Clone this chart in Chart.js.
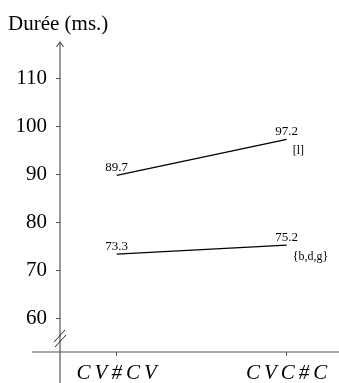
<!DOCTYPE html>
<html>
<head>
<meta charset="utf-8">
<script src="https://cdn.jsdelivr.net/npm/chart.js@4"></script>
<style>
  body { margin: 0; background: #fff; }
  #chart { display: block; }
</style>
</head>
<body>
<canvas id="chart" width="339" height="383"></canvas>
<script>
// data
const categories = ['CV#CV', 'CVC#C'];
const seriesL = [89.7, 97.2];
const seriesBDG = [73.3, 75.2];
const seriesNames = ['[l]', '{b,d,g}'];
const yTicks = [60, 70, 80, 90, 100, 110];
const yTitle = 'Durée (ms.)';

const axisColor = '#555';
const serif = "'Liberation Serif', 'Times New Roman', serif";

function toPoints(arr) {
  return arr.map((v, i) => ({ x: i, y: v }));
}

// axis lines, arrow, axis break, title, x labels, value labels
const drawExtras = {
  id: 'drawExtras',
  afterDraw(chart) {
    const ctx = chart.ctx;
    const area = chart.chartArea;
    const xs = chart.scales.x;
    ctx.save();
    ctx.strokeStyle = axisColor;
    ctx.lineWidth = 1.2;
    // y axis
    ctx.beginPath();
    ctx.moveTo(area.left, chart.height);
    ctx.lineTo(area.left, area.top);
    ctx.stroke();
    // arrow head
    ctx.beginPath();
    ctx.moveTo(area.left - 3.5, area.top + 5);
    ctx.lineTo(area.left, area.top);
    ctx.lineTo(area.left + 3.5, area.top + 5);
    ctx.stroke();
    // x axis
    ctx.beginPath();
    ctx.moveTo(32, area.bottom);
    ctx.lineTo(area.right, area.bottom);
    ctx.stroke();
    // axis break
    ctx.strokeStyle = '#222';
    ctx.lineWidth = 1;
    ctx.beginPath();
    ctx.moveTo(area.left - 6, area.bottom - 10);
    ctx.lineTo(area.left + 5, area.bottom - 22);
    ctx.moveTo(area.left - 5, area.bottom - 5);
    ctx.lineTo(area.left + 6, area.bottom - 17);
    ctx.stroke();

    // title
    ctx.fillStyle = '#000';
    ctx.font = '21px ' + serif;
    ctx.textAlign = 'left';
    ctx.textBaseline = 'alphabetic';
    ctx.fillText(yTitle, 8, 30);

    // x category labels (math italic look)
    ctx.font = 'italic 21px ' + serif;
    ctx.letterSpacing = '4px';
    categories.forEach((c, i) => {
      const w = ctx.measureText(c).width - 4;
      ctx.fillText(c, xs.getPixelForValue(i) - w / 2, 379);
    });
    ctx.letterSpacing = '0px';

    // value labels and series names
    chart.data.datasets.forEach((ds, di) => {
      const meta = chart.getDatasetMeta(di);
      ctx.font = '13px ' + serif;
      ctx.textAlign = 'center';
      ctx.textBaseline = 'alphabetic';
      meta.data.forEach((pt, i) => {
        ctx.fillText(ds.data[i].y.toFixed(1), pt.x, pt.y - 4);
      });
      const last = meta.data[meta.data.length - 1];
      ctx.font = '12px ' + serif;
      ctx.textAlign = 'left';
      ctx.textBaseline = 'middle';
      ctx.fillText(seriesNames[di], last.x + 6, last.y + 11.5);
    });
    ctx.restore();
  }
};

new Chart(document.getElementById('chart'), {
  type: 'line',
  data: {
    datasets: [
      { label: seriesNames[0], data: toPoints(seriesL), borderColor: '#000', borderWidth: 1.3, pointRadius: 0, fill: false },
      { label: seriesNames[1], data: toPoints(seriesBDG), borderColor: '#000', borderWidth: 1.3, pointRadius: 0, fill: false }
    ]
  },
  options: {
    responsive: false,
    animation: false,
    layout: { padding: { top: 42, right: 0, left: 0, bottom: 0 } },
    plugins: { legend: { display: false }, tooltip: { enabled: false } },
    scales: {
      x: {
        type: 'linear',
        min: -0.3335,
        max: 1.3076,
        afterBuildTicks: s => { s.ticks = categories.map((c, i) => ({ value: i })); },
        afterFit: s => { s.height = 31; },
        border: { display: false },
        grid: { drawOnChartArea: false, drawTicks: true, tickLength: 4, color: axisColor, lineWidth: 1 },
        ticks: { display: false }
      },
      y: {
        min: 52.917,
        max: 117.5,
        afterBuildTicks: s => { s.ticks = yTicks.map(v => ({ value: v })); },
        afterFit: s => { s.width = 60; },
        border: { display: false },
        grid: { drawOnChartArea: false, drawTicks: true, tickLength: 4, color: axisColor, lineWidth: 1 },
        ticks: { padding: 9, color: '#000', font: { family: serif, size: 21 } }
      }
    }
  },
  plugins: [drawExtras]
});
</script>
</body>
</html>
